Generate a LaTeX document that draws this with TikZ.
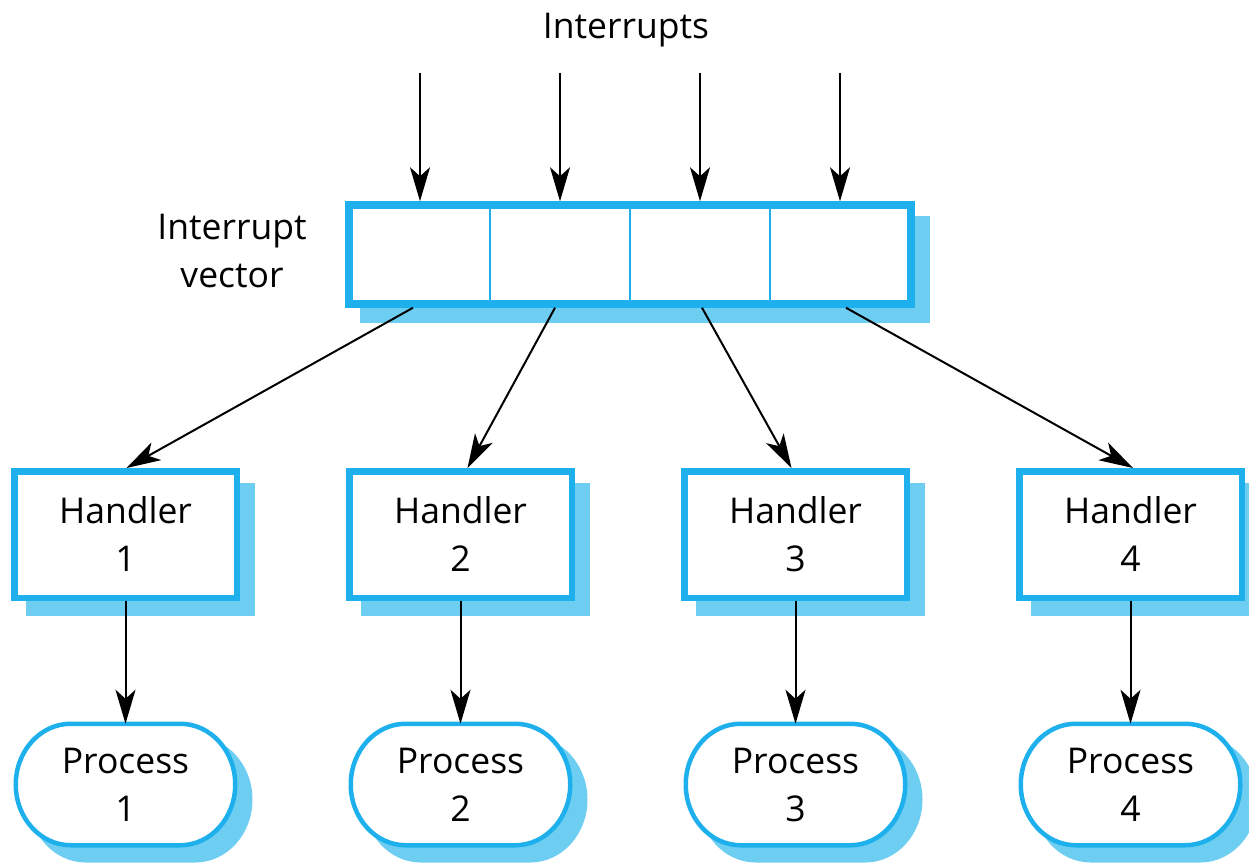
\documentclass[tikz,border=0pt]{standalone}
\usepackage{fontspec}
\setmainfont{Open Sans}
\usetikzlibrary{arrows.meta,calc,fit,backgrounds}
\definecolor{bordblue}{RGB}{29,176,236}
\definecolor{shadblue}{RGB}{110,206,242}
\begin{document}
\begin{tikzpicture}[x=1pt,y=-1pt,
  lbl/.style={font=\fontsize{35.5}{48}\selectfont, align=center, inner sep=0pt},
  arr/.style={line width=2pt, -{Stealth[length=34pt,width=20pt,inset=9pt]}},
  cell/.style={draw=bordblue, fill=white, line width=2pt, minimum width=140pt, minimum height=97pt, inner sep=0pt},
  vecbox/.style={draw=bordblue, line width=7.5pt, inner sep=0pt},
  handlerbox/.style={lbl, draw=bordblue, fill=white, line width=6.5pt, minimum width=222.5pt, minimum height=126.5pt},
  procbox/.style={lbl, outer sep=0pt, minimum width=219.5pt, minimum height=121.5pt},
  procline/.style={draw=bordblue, line width=4.5pt, fill=white},
  shadowline/.style={draw=shadblue, fill=shadblue, line width=4.5pt},
]
\useasboundingbox (0,0) rectangle (1249,865);

% labels
\node[lbl, anchor=base] (intr) at (626,38) {Interrupts};
\node[lbl] (ivl) at (232,251) {Interrupt\\vector};

% interrupt vector cells
\foreach \i/\x in {1/420,2/560,3/700,4/840}
  \node[cell] (c\i) at (\x,254.5) {};
\node[vecbox, fit=(c1)(c4)] (vec) {};

% handlers and processes
\foreach \i/\x in {1/125.5,2/460.5,3/795.5,4/1130.5}{
  \node[handlerbox] (h\i) at (\x,534.5) {Handler\\\i};
  \node[procbox] (p\i) at (\x,784.5) {Process\\\i};
}

% shadows and process outlines
\begin{scope}[on background layer]
  \fill[shadblue] ($(vec.north west)+(15,15)$) rectangle ($(vec.south east)+(15,15)$);
  \foreach \i in {1,...,4}{
    \fill[shadblue] ($(h\i.north west)+(15,15)$) rectangle ($(h\i.south east)+(15,15)$);
    \path[shadowline] ($(p\i.north west)+(70,15)$) -- ($(p\i.north east)+(-40,15)$)
      arc[start angle=-90,end angle=90,x radius=55,y radius=60.75]
      -- ($(p\i.south west)+(70,15)$)
      arc[start angle=90,end angle=270,x radius=55,y radius=60.75] -- cycle;
    \path[procline] ($(p\i.north west)+(55,0)$) -- ($(p\i.north east)+(-55,0)$)
      arc[start angle=-90,end angle=90,x radius=55,y radius=60.75]
      -- ($(p\i.south west)+(55,0)$)
      arc[start angle=90,end angle=270,x radius=55,y radius=60.75] -- cycle;
  }
\end{scope}

% incoming interrupt arrows
\foreach \i/\x in {1/420,2/560,3/700,4/840}{
  \coordinate (in\i) at (\x,72.7);
  \draw[arr] (in\i) -- (c\i.north |- vec.north);
}

% vector to handler arrows
\foreach \i/\dx/\ex in {1/-7/1,2/-5/7,3/2/-4,4/6/2.5}{
  \coordinate (s\i) at ($(c\i.south |- vec.south)+(\dx,0)$);
  \draw[arr] (s\i) -- ($(h\i.north)+(\ex,0)$);
}

% handler to process arrows
\foreach \i in {1,...,4}
  \draw[arr] (h\i.south) -- (p\i.north);
\end{tikzpicture}
\end{document}
